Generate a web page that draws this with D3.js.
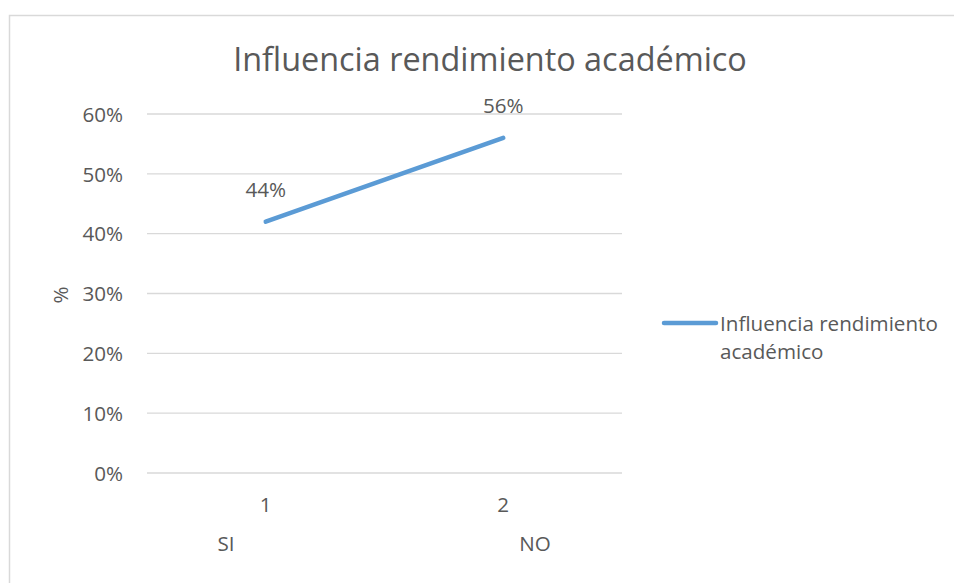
<!DOCTYPE html>
<html><head><meta charset="utf-8">
<script src="https://cdn.jsdelivr.net/npm/d3@7"></script>
<style>body{margin:0;background:#fff}svg{display:block}text{font-family:"Open Sans","Noto Sans",sans-serif;fill:#595959}</style>
</head><body>
<svg id="c" width="954" height="583"></svg>
<script>
const categories = ["1", "2"];
const groupLabels = ["SI", "NO"];
const values = [0.42, 0.56];
const dataLabels = ["44%", "56%"];
const yTicks = [0, 0.1, 0.2, 0.3, 0.4, 0.5, 0.6];
const seriesName = "Influencia rendimiento académico";
const title = "Influencia rendimiento académico";

const FS = "20.6px";
const svg = d3.select("#c");
svg.append("rect").attr("x", 9.5).attr("y", 15.5).attr("width", 960).attr("height", 600)
  .attr("fill", "#fff").attr("stroke", "#d9d9d9").attr("stroke-width", 1.5);

const plot = {l: 147, r: 622, t: 114, b: 473};
const x = d3.scaleBand().domain(categories).range([plot.l, plot.r]);
const y = d3.scaleLinear().domain([0, 0.6]).range([plot.b, plot.t]);

svg.append("text").attr("x", 490).attr("y", 71).attr("text-anchor", "middle")
  .style("font-size", "32.4px").text(title);

svg.append("g").selectAll("line").data(yTicks).join("line")
  .attr("x1", plot.l).attr("x2", plot.r).attr("y1", d => y(d)).attr("y2", d => y(d))
  .attr("stroke", "#d9d9d9").attr("stroke-width", 1.3);

const yAxis = d3.axisLeft(y).tickValues(yTicks).tickFormat(d3.format(".0%")).tickSize(0).tickPadding(24);
const gy = svg.append("g").attr("transform", `translate(${plot.l},0)`).call(yAxis);
gy.select(".domain").remove();
gy.selectAll("text").style("font-size", FS).attr("fill", "#595959").style("font-family", '"Open Sans",sans-serif').attr("dy", "0.35em");

const xAxis = d3.axisBottom(x).tickSize(0).tickPadding(0);
const gx = svg.append("g").attr("transform", `translate(0,${plot.b})`).call(xAxis);
gx.select(".domain").remove();
gx.selectAll("text").style("font-size", FS).attr("fill", "#595959").style("font-family", '"Open Sans",sans-serif')
  .attr("y", 39).attr("dy", 0);

const g2 = d3.scalePoint().domain(groupLabels).range([226, 535]);
svg.append("g").selectAll("text").data(groupLabels).join("text")
  .attr("x", d => g2(d)).attr("y", 551).attr("text-anchor", "middle").style("font-size", FS).text(d => d);

svg.append("text").attr("transform", "translate(68,295) rotate(-90)").attr("text-anchor", "middle")
  .style("font-size", FS).text("%");

const line = d3.line().x((d, i) => x(categories[i]) + x.bandwidth() / 2).y(d => y(d));
svg.append("path").datum(values).attr("d", line).attr("fill", "none")
  .attr("stroke", "#5B9BD5").attr("stroke-width", 4.5).attr("stroke-linecap", "round");

svg.append("g").selectAll("text").data(values).join("text")
  .attr("x", (d, i) => x(categories[i]) + x.bandwidth() / 2)
  .attr("y", d => y(d) - 25)
  .attr("text-anchor", "middle").style("font-size", FS).text((d, i) => dataLabels[i]);

svg.append("line").attr("x1", 664).attr("x2", 716).attr("y1", 323).attr("y2", 323)
  .attr("stroke", "#5B9BD5").attr("stroke-width", 4.5).attr("stroke-linecap", "round");
const lt = svg.append("text").attr("x", 720).attr("y", 331).style("font-size", FS);
lt.append("tspan").attr("x", 720).attr("dy", 0).text("Influencia rendimiento");
lt.append("tspan").attr("x", 720).attr("dy", 28).text("académico");
</script>
</body></html>
